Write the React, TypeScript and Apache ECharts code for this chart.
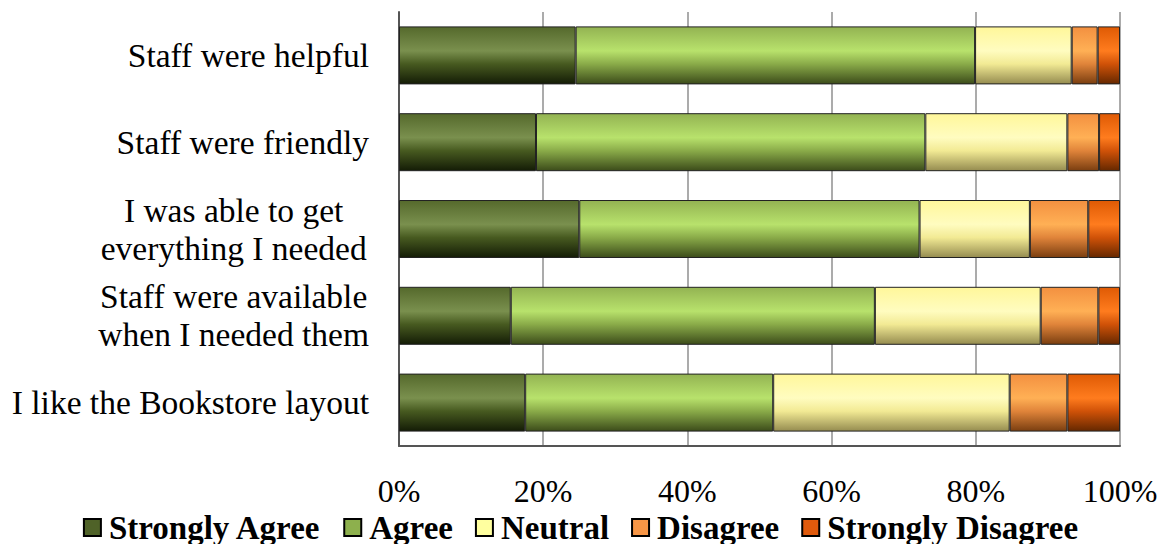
import React, { useEffect, useRef } from "react";
import * as echarts from "echarts";

const categories = [
  "Staff were helpful",
  "Staff were friendly",
  "I was able to get\neverything I needed",
  "Staff were available\nwhen I needed them",
  "I like the Bookstore layout",
];
const seriesNames = ["Strongly Agree", "Agree", "Neutral", "Disagree", "Strongly Disagree"];
const stronglyAgree = [24.5, 19.0, 25.0, 15.5, 17.5];
const agree = [55.4, 54.0, 47.2, 50.5, 34.4];
const neutral = [13.4, 19.7, 15.3, 23.0, 32.8];
const disagree = [3.6, 4.4, 8.1, 8.0, 8.0];
const stronglyDisagree = [3.1, 2.9, 4.4, 3.0, 7.3];
const xTicks = [0, 20, 40, 60, 80, 100];

const FONT = "'Liberation Serif', 'Times New Roman', serif";
const LABEL_SIZE = 33.5;
const TICK_SIZE = 32;

const flatColors = ["#4f6228", "#8db04d", "#ffff9f", "#f79646", "#e05a0c"];
const gradStops = [
  ["#55692c", "#7a904e", "#475a20", "#141c06"],
  ["#93b352", "#b8e26c", "#8aab49", "#3c4c1a"],
  ["#fff79a", "#fffcc0", "#f2ea94", "#958c50"],
  ["#f39040", "#ffb055", "#e0843a", "#7a3e10"],
  ["#df5a04", "#ff7c1e", "#d05208", "#652800"],
];

function grad(i: number) {
  const s = gradStops[i];
  return new echarts.graphic.LinearGradient(0, 0, 0, 1, [
    { offset: 0, color: s[0] },
    { offset: 0.42, color: s[1] },
    { offset: 0.65, color: s[2] },
    { offset: 1, color: s[3] },
  ]);
}

function measure(text: string, font: string) {
  const c = document.createElement("canvas").getContext("2d");
  if (!c) return text.length * 15;
  c.font = font;
  return c.measureText(text).width;
}

export default function App() {
  const ref = useRef<HTMLDivElement>(null);
  useEffect(() => {
    if (!ref.current) return;
    const chart = echarts.init(ref.current, null, { renderer: "svg" });
    const values = [stronglyAgree, agree, neutral, disagree, stronglyDisagree];
    const fontStr = `${LABEL_SIZE}px ${FONT}`;
    chart.setOption({
      animation: false,
      backgroundColor: "#ffffff",
      grid: { left: 399, right: 41, top: 12, bottom: 98, containLabel: false },
      xAxis: {
        type: "value",
        min: 0,
        max: 100,
        interval: 20,
        axisLine: { show: true, lineStyle: { color: "#555555", width: 2 } },
        axisTick: { show: false },
        splitLine: { show: true, lineStyle: { color: "#ababab", width: 2 } },
        axisLabel: {
          formatter: (v: number) => (xTicks.includes(v) ? `${v}%` : ""),
          color: "#000",
          fontFamily: FONT,
          fontSize: TICK_SIZE,
          margin: 29,
        },
      },
      yAxis: {
        type: "category",
        inverse: true,
        data: categories,
        axisLine: { show: true, lineStyle: { color: "#555555", width: 2 } },
        axisTick: { show: false },
        axisLabel: {
          color: "#000",
          fontFamily: FONT,
          fontSize: LABEL_SIZE,
          margin: 30,
          lineHeight: 38,
          formatter: (v: string) => {
            if (v.indexOf("\n") < 0) return v;
            return v
              .split("\n")
              .map((l) => `{c|${l}}`)
              .join("\n");
          },
          rich: {
            c: {
              width: Math.max(
                measure("everything I needed", fontStr),
                measure("when I needed them", fontStr)
              ),
              align: "center",
              fontFamily: FONT,
              fontSize: LABEL_SIZE,
              lineHeight: 38,
              color: "#000",
            },
          },
        },
      },
      legend: {
        bottom: 0,
        left: "center",
        padding: 0,
        icon: "rect",
        itemWidth: 17,
        itemHeight: 17,
        itemGap: 22,
        textStyle: {
          fontFamily: FONT,
          fontWeight: "bold",
          fontSize: 33,
          color: "#000",
          padding: [0, 0, 0, 3],
        },
        data: seriesNames.map((n, i) => ({
          name: n,
          itemStyle: { color: flatColors[i], borderColor: "#000", borderWidth: 2 },
        })),
      },
      series: seriesNames.map((name, i) => ({
        name,
        type: "bar",
        stack: "total",
        barWidth: 58,
        data: values[i],
        itemStyle: { color: grad(i), borderColor: "#222", borderWidth: 1 },
        emphasis: { disabled: true },
      })),
    });
    return () => chart.dispose();
  }, []);
  return <div ref={ref} style={{ width: 1161, height: 544, position: "absolute", left: 0, top: 0 }} />;
}
